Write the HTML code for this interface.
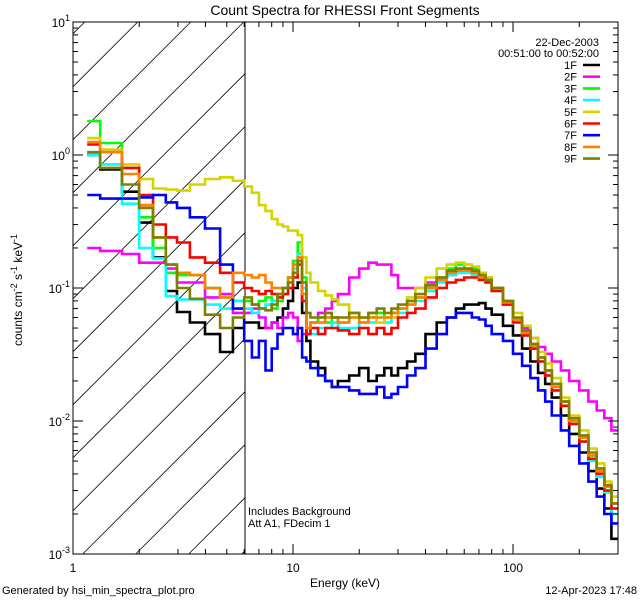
<!DOCTYPE html>
<html><head><meta charset="utf-8"><style>
html,body{margin:0;padding:0;background:#fff;width:640px;height:600px;overflow:hidden;}
svg{display:block;font-family:"Liberation Sans",sans-serif;}
</style></head><body>
<svg id="chart" width="640" height="600" viewBox="0 0 640 600" xmlns="http://www.w3.org/2000/svg">
<defs><clipPath id="plotclip"><rect x="73" y="22" width="545" height="532"/></clipPath></defs>
<text x="345" y="15" font-size="14" text-anchor="middle">Count Spectra for RHESSI Front Segments</text>
<g id="hatch"></g>
<line x1="245" y1="22" x2="245" y2="554" stroke="#000" stroke-width="1"/>
<g id="series" clip-path="url(#plotclip)"></g>
<rect x="73" y="22" width="545" height="532" fill="none" stroke="#000" stroke-width="1"/>
<g id="axes"></g>
<text transform="translate(22,290) rotate(-90)" font-size="12" text-anchor="middle">counts cm<tspan dy="-5" font-size="9">-2</tspan><tspan dy="5"> s</tspan><tspan dy="-5" font-size="9">-1</tspan><tspan dy="5"> keV</tspan><tspan dy="-5" font-size="9">-1</tspan></text>
<text x="345" y="587" font-size="12" text-anchor="middle">Energy (keV)</text>
<text x="2" y="594" font-size="11">Generated by hsi_min_spectra_plot.pro</text>
<text x="637" y="594" font-size="11" text-anchor="end">12-Apr-2023 17:48</text>
<text x="248" y="515" font-size="11">Includes Background</text>
<text x="248" y="527" font-size="11">Att A1, FDecim 1</text>
<text x="599" y="46" font-size="11" text-anchor="end">22-Dec-2003</text>
<text x="599" y="57" font-size="11" text-anchor="end">00:51:00 to 00:52:00</text>
<g id="legend"></g>
</svg>
<script>
const edges=[1.16,1.33,1.67,2.0,2.31,2.64,2.97,3.4,3.98,4.66,5.33,6.0,
6.5,7,7.5,8,8.5,9,9.5,10,10.5,11,11.5,12,13,14,15,16,
18,20,22,24,26,28,30,33,36,40,
45,50,55,60,65,70,75,80,90,100,
110,120,130,140,150,165,180,200,220,240,260,280,300];
const seriesNames=["1F","2F","3F","4F","5F","6F","7F","8F","9F"];
const seriesColors=["#000000","#ff00ff","#00ff00","#00ffff","#d4d400","#ff0000","#0000ff","#ff8000","#808000"];
const s1F=[1.0,0.78,0.53,0.31,0.17,0.095,0.066,0.055,0.045,0.033,0.05,
0.055,0.055,0.05,0.05,0.055,0.06,0.07,0.08,0.1,0.11,0.065,0.04,0.028,0.025,0.02,0.018,
0.02,0.022,0.025,0.02,0.022,0.025,0.022,0.025,0.028,0.032,
0.045,0.055,0.06,0.07,0.075,0.075,0.077,0.07,0.063,0.052,
0.044,0.035,0.028,0.023,0.019,0.015,0.011,0.008,0.0058,0.0042,0.0031,0.0022,0.0013];
const s2F=[0.2,0.19,0.18,0.155,0.155,0.14,0.11,0.11,0.085,0.09,0.065,
0.065,0.07,0.06,0.05,0.055,0.05,0.06,0.065,0.06,0.04,0.045,0.045,0.055,0.065,0.07,0.08,
0.09,0.12,0.14,0.155,0.15,0.15,0.125,0.1,0.1,0.1,
0.11,0.12,0.125,0.13,0.135,0.14,0.13,0.12,0.1,0.075,
0.058,0.05,0.042,0.036,0.032,0.028,0.024,0.02,0.017,0.014,0.012,0.0105,0.0085];
const s3F=[1.8,1.23,0.8,0.34,0.2,0.13,0.125,0.125,0.1,0.085,0.08,
0.08,0.075,0.08,0.085,0.07,0.08,0.1,0.12,0.16,0.22,0.12,0.045,0.055,0.06,0.055,0.06,
0.055,0.06,0.055,0.06,0.065,0.06,0.065,0.07,0.08,0.085,
0.1,0.12,0.14,0.15,0.14,0.14,0.13,0.12,0.1,0.08,
0.058,0.047,0.037,0.03,0.024,0.019,0.014,0.01,0.0075,0.0055,0.0042,0.0032,0.0022];
const s4F=[1.0,0.85,0.43,0.2,0.167,0.087,0.082,0.082,0.075,0.07,0.08,
0.07,0.065,0.07,0.075,0.08,0.09,0.1,0.11,0.14,0.18,0.1,0.05,0.045,0.05,0.05,0.055,
0.05,0.05,0.055,0.055,0.06,0.055,0.06,0.065,0.075,0.08,
0.095,0.11,0.125,0.13,0.13,0.125,0.12,0.11,0.095,0.075,
0.055,0.044,0.035,0.028,0.022,0.017,0.013,0.0095,0.007,0.005,0.0038,0.0029,0.002];
const s5F=[1.34,1.1,0.85,0.66,0.56,0.55,0.54,0.6,0.66,0.68,0.64,
0.58,0.52,0.42,0.38,0.33,0.3,0.29,0.27,0.27,0.25,0.17,0.13,0.11,0.095,0.088,0.082,
0.075,0.065,0.06,0.065,0.055,0.06,0.06,0.07,0.085,0.1,
0.12,0.14,0.15,0.155,0.15,0.145,0.13,0.12,0.1,0.08,
0.065,0.052,0.042,0.033,0.027,0.021,0.015,0.011,0.0085,0.0062,0.0048,0.0035,0.0027];
const s6F=[1.2,1.05,0.8,0.5,0.3,0.24,0.22,0.17,0.155,0.13,0.11,
0.1,0.095,0.09,0.095,0.09,0.085,0.09,0.1,0.12,0.15,0.08,0.045,0.05,0.045,0.05,0.05,
0.048,0.045,0.05,0.045,0.05,0.045,0.05,0.06,0.065,0.07,
0.085,0.1,0.11,0.115,0.12,0.12,0.115,0.11,0.095,0.075,
0.055,0.044,0.035,0.028,0.022,0.017,0.013,0.0095,0.007,0.0052,0.004,0.003,0.0022];
const s7F=[0.5,0.47,0.47,0.48,0.5,0.44,0.4,0.34,0.28,0.15,0.07,
0.04,0.03,0.04,0.024,0.035,0.045,0.05,0.05,0.045,0.05,0.03,0.028,0.025,0.022,0.02,0.018,
0.018,0.017,0.016,0.016,0.018,0.015,0.016,0.018,0.022,0.025,
0.035,0.045,0.06,0.065,0.065,0.06,0.058,0.052,0.045,0.04,
0.032,0.026,0.021,0.017,0.014,0.011,0.0085,0.0065,0.0048,0.0035,0.0027,0.002,0.0017];
const s8F=[1.25,1.05,0.72,0.42,0.24,0.15,0.13,0.125,0.1,0.085,0.13,
0.125,0.12,0.125,0.11,0.1,0.1,0.1,0.12,0.15,0.17,0.09,0.05,0.055,0.055,0.06,0.06,
0.055,0.06,0.055,0.06,0.06,0.06,0.065,0.07,0.075,0.085,
0.1,0.115,0.13,0.135,0.135,0.13,0.12,0.115,0.1,0.078,
0.058,0.046,0.037,0.03,0.024,0.018,0.014,0.01,0.0075,0.0055,0.0042,0.0032,0.0024];
const s9F=[1.05,0.8,0.6,0.4,0.24,0.15,0.1,0.083,0.063,0.05,0.06,
0.085,0.075,0.07,0.068,0.075,0.09,0.1,0.11,0.13,0.16,0.11,0.065,0.06,0.06,0.065,0.06,
0.06,0.065,0.06,0.065,0.07,0.065,0.07,0.075,0.08,0.09,
0.105,0.12,0.135,0.14,0.14,0.135,0.125,0.115,0.1,0.08,
0.06,0.048,0.038,0.03,0.024,0.019,0.014,0.0105,0.0078,0.0058,0.0044,0.0033,0.0024];
const seriesValues=[s1F,s2F,s3F,s4F,s5F,s6F,s7F,s8F,s9F];
const xTickLabels=["1","10","100"];
const yTickExps=[1,0,-1,-2,-3];

const NS="http://www.w3.org/2000/svg";
const X0=73,X1=618,Y0=22,Y1=554,XMIN=1,XMAX=300,YMIN=0.001,YMAX=10;
function xs(e){return X0+(Math.log10(e)-Math.log10(XMIN))/(Math.log10(XMAX)-Math.log10(XMIN))*(X1-X0);}
function ys(v){return Y1-(Math.log10(v)-Math.log10(YMIN))/(Math.log10(YMAX)-Math.log10(YMIN))*(Y1-Y0);}
function mk(t,a,p){const el=document.createElementNS(NS,t);for(const k in a)el.setAttribute(k,a[k]);p.appendChild(el);return el;}

// hatch lines y = c - x, clipped manually to x in [73,245], y in [22,554]
const hatch=document.getElementById('hatch');
const HX0=73,HX1=245;
for(let c=159.7-53*2;c<900;c+=53){
  let xa=Math.max(HX0,c-Y1), xb=Math.min(HX1,c-Y0);
  if(xb<=xa)continue;
  const ln=mk('line',{x1:xa,y1:c-xa,x2:xb,y2:c-xb,stroke:'#000','stroke-width':0.8},hatch);
  
  
}

const sg=document.getElementById('series');
seriesValues.forEach((vals,i)=>{
  let d='';
  for(let b=0;b<vals.length;b++){
    const xa=xs(edges[b]).toFixed(1),xb=xs(edges[b+1]).toFixed(1),y=ys(vals[b]).toFixed(1);
    d+=(b===0?'M':'L')+xa+','+y+'L'+xb+','+y;
  }
  const p=mk('path',{d:d,fill:'none',stroke:seriesColors[i],'stroke-width':2.6,'stroke-linejoin':'miter'},sg);
  
  
});

const ax=document.getElementById('axes');
for(let dec=0;dec<3;dec++){
  for(let m=1;m<=9;m++){
    const e=m*Math.pow(10,dec); if(e>XMAX)break;
    const x=xs(e),L=(m===1)?10:5;
    const t1=mk('line',{x1:x,y1:Y1,x2:x,y2:Y1-L,stroke:'#000'},ax);
    
    
    const t2=mk('line',{x1:x,y1:Y0,x2:x,y2:Y0+L,stroke:'#000'},ax);
    
    
  }
}
xTickLabels.forEach(s=>{
  const t=mk('text',{x:xs(parseFloat(s)),y:572,'font-size':12,'text-anchor':'middle'},ax);
  t.textContent=s;
  
  
});
for(let ex=-3;ex<1;ex++){
  for(let m=1;m<=9;m++){
    const v=m*Math.pow(10,ex),y=ys(v),L=(m===1)?10:5;
    const t1=mk('line',{x1:X0,y1:y,x2:X0+L,y2:y,stroke:'#000'},ax);
    
    
    const t2=mk('line',{x1:X1,y1:y,x2:X1-L,y2:y,stroke:'#000'},ax);
    
    
  }
}
yTickExps.forEach(ex=>{
  const y=ys(Math.pow(10,ex));
  const t=mk('text',{x:X0-3,y:y+5,'font-size':12,'text-anchor':'end'},ax);
  t.innerHTML='10<tspan dy="-6" font-size="9">'+ex+'</tspan>';
  
  
});

const lg=document.getElementById('legend');
seriesNames.forEach((n,i)=>{
  const y=65+i*11.7;
  const t=mk('text',{x:577,y:y+4,'font-size':11,'text-anchor':'end'},lg);
  t.textContent=n;
  
  
  const l=mk('line',{x1:583,y1:y,x2:600,y2:y,stroke:seriesColors[i],'stroke-width':2.6},lg);
  
  
});
</script>
</body></html>
